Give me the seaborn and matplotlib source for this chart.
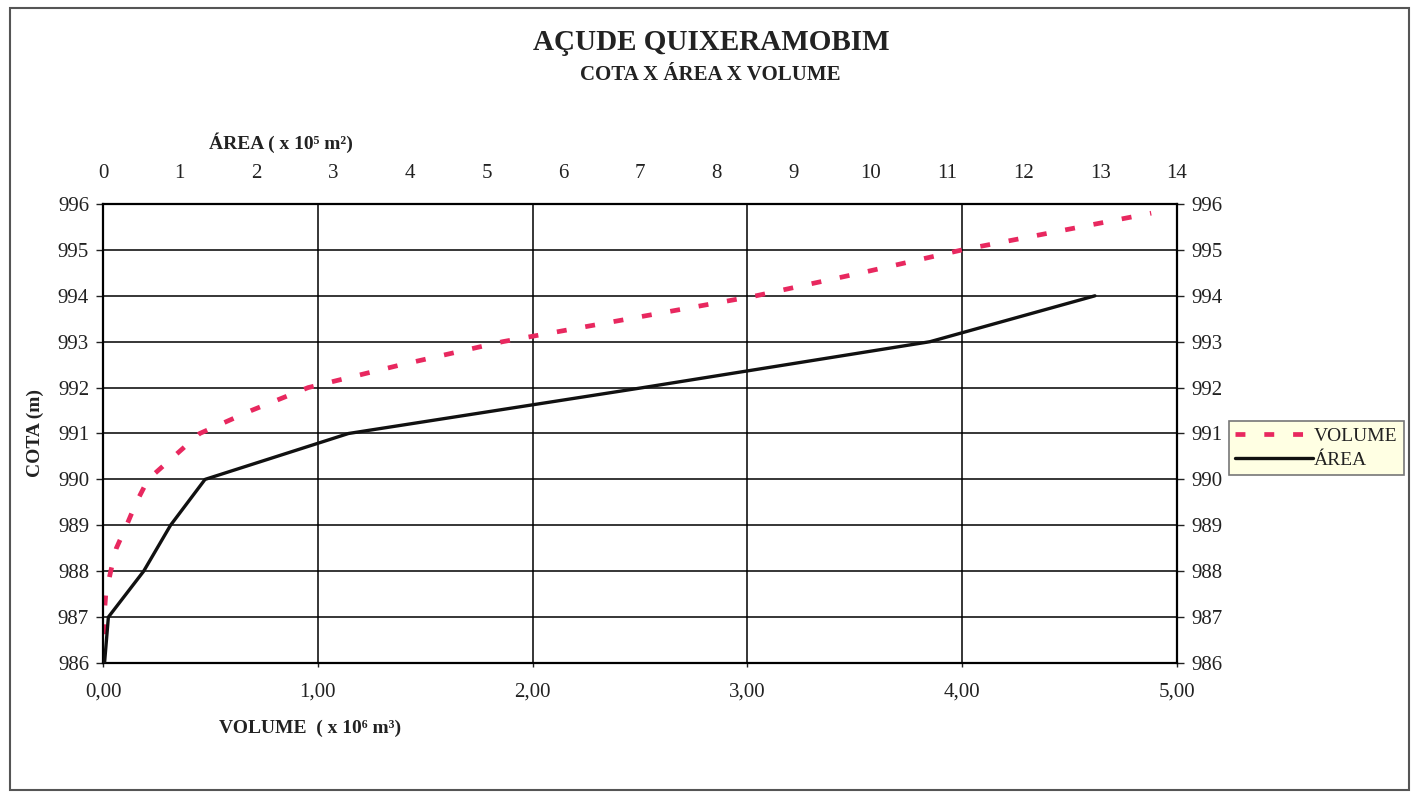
import matplotlib
matplotlib.use("Agg")
import matplotlib.pyplot as plt
import seaborn as sns
import pandas as pd
from matplotlib.ticker import FuncFormatter, MultipleLocator
from matplotlib.patches import Rectangle

# ---- data ----
cota_vol = [986.0, 987.0, 987.5, 988.0, 988.5, 989.0, 989.5, 990.0, 990.5, 991.0,
            991.5, 992.0, 992.5, 993.0, 993.5, 994.0, 994.5, 995.0, 995.5, 995.8]
volume = [0.0, 0.005, 0.013, 0.036, 0.062, 0.11, 0.155, 0.21, 0.33, 0.45,
          0.69, 0.955, 1.39, 1.86, 2.45, 3.04, 3.53, 4.0, 4.55, 4.88]   # x 10^6 m3

cota_area = [986, 987, 988, 989, 990, 991, 992, 993, 994]
area = [0.02, 0.07, 0.53, 0.88, 1.33, 3.20, 7.04, 10.78, 12.93]       # x 10^5 m2

title = "AÇUDE QUIXERAMOBIM"
subtitle = "COTA X ÁREA X VOLUME"
xlabel_bottom = "VOLUME  ( x 10⁶ m³)"
xlabel_top = "ÁREA ( x 10⁵ m²)"
ylabel = "COTA (m)"

sns.set_style("white")
plt.rcParams["font.family"] = ["Liberation Serif", "DejaVu Serif"]

df_v = pd.DataFrame({"volume": volume, "cota": cota_vol})
df_a = pd.DataFrame({"area": area, "cota": cota_area})

W, H = 1413, 792
fig = plt.figure(figsize=(W / 100, H / 100), dpi=100)
ax = fig.add_axes([103 / W, 1 - 663 / H, (1177 - 103) / W, (663 - 204) / H])

pink = "#E8285F"
sns.lineplot(data=df_v, x="volume", y="cota", sort=False, ax=ax, color=pink,
             lw=3.4, linestyle=(0, (2.1, 4.0)), label="VOLUME", legend=False)
ax.set_xlim(0, 5)
ax.set_ylim(986, 996)
ax.xaxis.set_major_locator(MultipleLocator(1))
ax.yaxis.set_major_locator(MultipleLocator(1))
ax.xaxis.set_major_formatter(FuncFormatter(lambda v, p: f"{v:.2f}".replace(".", ",")))
ax.grid(True, color="black", lw=1.1)
ax.set_xlabel("")
ax.set_ylabel("")
ax.tick_params(axis="y", which="both", left=True, right=True, labelleft=True,
               labelright=True, direction="out", length=5, width=1, pad=5,
               labelsize=15, colors="#222222")
ax.tick_params(axis="x", bottom=True, direction="out", length=3, width=1, pad=11,
               labelsize=15, colors="#222222")
for s in ax.spines.values():
    s.set_color("black")
    s.set_linewidth(1.6)

ax2 = ax.twiny()
sns.lineplot(data=df_a, x="area", y="cota", sort=False, ax=ax2, color="#111111",
             lw=2.4, label="ÁREA", legend=False)
ax2.set_xlim(0, 14)
ax2.set_ylim(986, 996)
ax2.xaxis.set_major_locator(MultipleLocator(1))
ax2.set_xlabel("")
ax2.set_ylabel("")
ax2.tick_params(axis="x", top=True, length=0, pad=15, labelsize=15, colors="#222222")
ax2.grid(False)
for s in ax2.spines.values():
    s.set_visible(False)

# texts
fig.text(711 / W, 1 - 43 / H, title, ha="center", va="center", fontsize=21,
         fontweight="bold", color="#222222")
fig.text(710 / W, 1 - 75 / H, subtitle, ha="center", va="center", fontsize=15,
         fontweight="bold", color="#222222")
fig.text(281 / W, 1 - 143 / H, xlabel_top, ha="center", va="center", fontsize=14,
         fontweight="bold", color="#222222")
fig.text(310 / W, 1 - 728 / H, xlabel_bottom, ha="center", va="center", fontsize=14,
         fontweight="bold", color="#222222")
fig.text(35 / W, 1 - 433 / H, ylabel, ha="center", va="center", fontsize=14,
         fontweight="bold", rotation=90, color="#222222")

# legend
h1, l1 = ax.get_legend_handles_labels()
h2, l2 = ax2.get_legend_handles_labels()
leg = fig.legend(h1 + h2, l1 + l2, loc="center",
                 bbox_to_anchor=((1230 + 1403) / 2 / W, 1 - 448 / H),
                 fontsize=14, frameon=True, fancybox=False, framealpha=1,
                 facecolor="#FFFFE3", edgecolor="#777777", handlelength=4.0,
                 handletextpad=0.05, borderpad=0.35, labelspacing=0.3,
                 borderaxespad=0)
leg.get_frame().set_linewidth(1.2)
for t in leg.get_texts():
    t.set_color("#222222")

# outer border
fig.patches.append(Rectangle((10 / W, 2 / H), 1399 / W, 782 / H, transform=fig.transFigure,
                             fill=False, edgecolor="#555555", lw=1.5))

fig.savefig("out.png", dpi=100)
